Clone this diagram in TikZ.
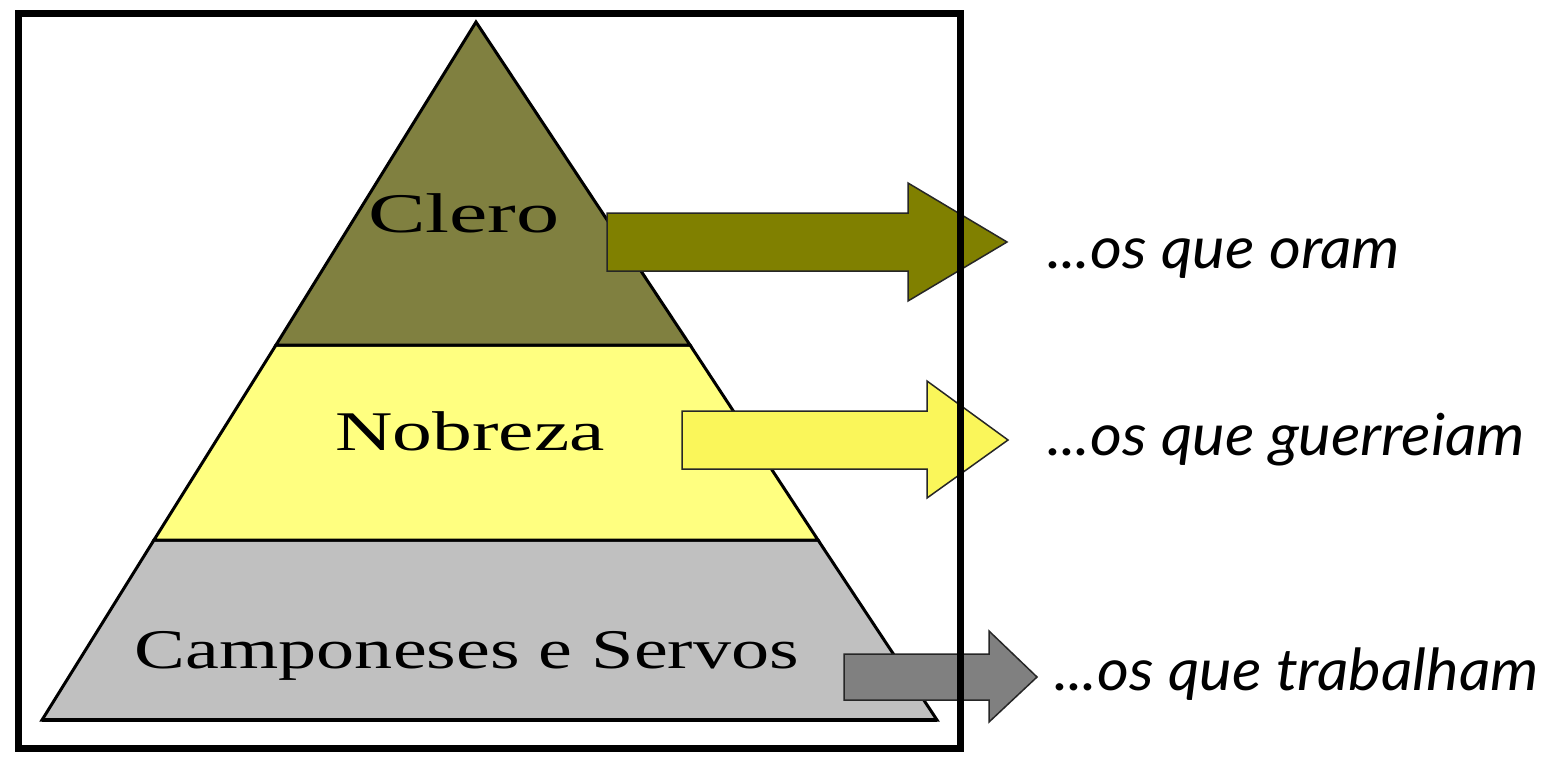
\documentclass[tikz,border=0pt]{standalone}
\usepackage{fontspec}
\setmainfont{Liberation Serif}
\newfontfamily\handfont{Lato}
\definecolor{cleroC}{RGB}{128,128,64}
\definecolor{cleroA}{RGB}{128,128,0}
\definecolor{nobC}{RGB}{255,255,128}
\definecolor{nobA}{RGB}{250,246,90}
\definecolor{campC}{RGB}{192,192,192}
\definecolor{campA}{RGB}{128,128,128}
\begin{document}
\begin{tikzpicture}[x=1pt,y=-1pt,
  layer/.style={draw=black, line width=3pt, line join=miter},
  blockarrow/.style={draw=black!85, line width=1.5pt, line join=miter},
  tierlabel/.style={font=\fontsize{56}{60}\selectfont, anchor=base, inner sep=0pt},
  hand/.style={font=\handfont\itshape\fontsize{58}{62}\selectfont, anchor=base west, inner sep=0pt}]
\useasboundingbox (0,0) rectangle (1558,758);
\fill[white] (0,0) rectangle (1558,758);
% pyramid corners
\coordinate (apex) at (476,22);
\coordinate (l1) at (276,345);
\coordinate (r1) at (690,345);
\coordinate (l2) at (154,540);
\coordinate (r2) at (818,540);
\coordinate (bl) at (42,720);
\coordinate (br) at (937,720);
\filldraw[layer, fill=campC] (l2) -- (r2) -- (br) -- (bl) -- cycle;
\filldraw[layer, fill=nobC] (l1) -- (r1) -- (r2) -- (l2) -- cycle;
\filldraw[layer, fill=cleroC] (apex) -- (r1) -- (l1) -- cycle;
\draw[line width=4.5pt] (bl) -- (br);
% arrows
\filldraw[blockarrow, fill=cleroA] (607,213) -- (908,213) -- (908,183) -- (1007,242) -- (908,301) -- (908,271) -- (607,271) -- cycle;
\filldraw[blockarrow, fill=nobA] (682,411) -- (927,411) -- (927,381) -- (1008,440) -- (927,498) -- (927,469) -- (682,469) -- cycle;
\filldraw[blockarrow, fill=campA] (844,654) -- (989,654) -- (989,631) -- (1037,677) -- (989,722) -- (989,700) -- (844,700) -- cycle;
% frame
\draw[line width=7pt] (18,13.5) rectangle (960,748);
% labels
\node[tierlabel] (clero) at (464,232) {\scalebox{1.54}[1]{Clero}};
\node[tierlabel] (nobreza) at (470,450) {\scalebox{1.42}[1]{Nobreza}};
\node[tierlabel] (camp) at (467,668) {\scalebox{1.36}[1]{Camponeses e Servos}};
\node[hand] (oram) at (1047,268) {\scalebox{1.06}[1]{...os que oram}};
\node[hand] (guerra) at (1047,455) {\scalebox{1.06}[1]{...os que guerreiam}};
\node[hand] (trab) at (1054,690) {\scalebox{1.06}[1]{...os que trabalham}};
\end{tikzpicture}
\end{document}
